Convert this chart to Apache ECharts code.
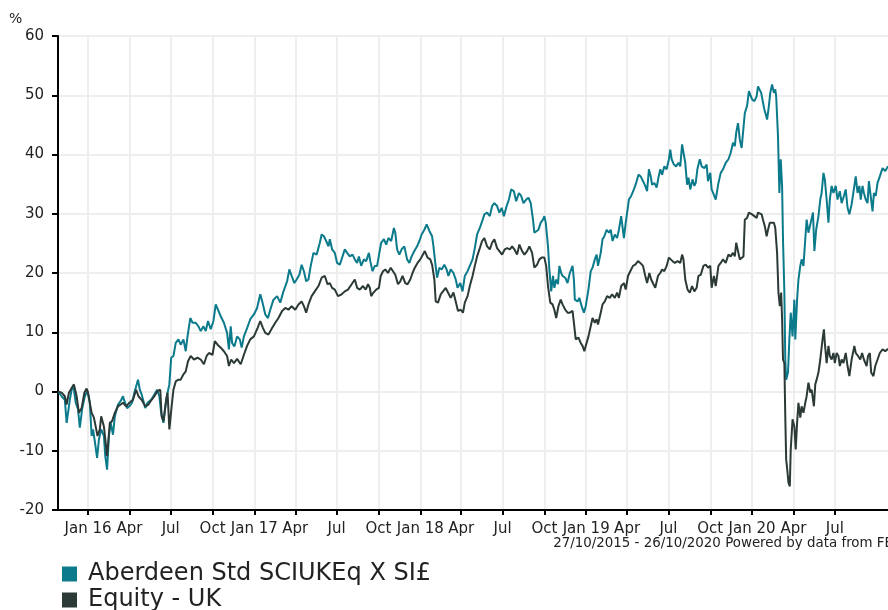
<!DOCTYPE html>
<html>
<head>
<meta charset="utf-8">
<script src="https://cdn.jsdelivr.net/npm/echarts@6/dist/echarts.min.js"></script>
<style>html,body{margin:0;padding:0;background:#fff;}#c{width:888px;height:610px;}</style>
</head>
<body>
<div id="c"></div>
<script>
// Period
const startDate = '2015-10-27';
const endDate = '2020-10-26';
// Quarter ticks
const tickDates = ['2016-01-01','2016-04-01','2016-07-01','2016-10-01','2017-01-01','2017-04-01','2017-07-01','2017-10-01','2018-01-01','2018-04-01','2018-07-01','2018-10-01','2019-01-01','2019-04-01','2019-07-01','2019-10-01','2020-01-01','2020-04-01','2020-07-01'];
const tickLabels = ['Jan 16','Apr','Jul','Oct','Jan 17','Apr','Jul','Oct','Jan 18','Apr','Jul','Oct','Jan 19','Apr','Jul','Oct','Jan 20','Apr','Jul'];
const yTicks = [-20,-10,0,10,20,30,40,50,60];
const seriesNames = ['Aberdeen Std SCIUKEq X SI£','Equity - UK'];

// Aberdeen Std SCIUKEq X SI£ : days since start, cumulative % return
const fundDays = [0,8,15,19,26,30,34,39,44,48,53,59,65,70,74,77,81,86,90,95,101,104,108,112,116,121,125,132,138,143,146,152,157,163,168,176,180,184,192,197,205,212,218,223,227,232,238,241,245,249,254,259,265,270,276,281,285,291,296,303,309,314,320,325,330,336,342,347,351,358,365,372,376,380,383,388,394,400,404,409,416,423,431,438,445,450,456,462,467,474,482,489,496,504,509,514,520,525,531,536,541,546,551,556,562,569,576,580,585,590,595,598,603,609,614,620,626,631,636,642,648,653,658,662,667,673,678,684,687,692,697,702,707,711,717,722,727,733,739,742,746,751,756,762,768,773,778,784,790,795,800,806,811,817,823,826,830,834,839,844,850,855,859,864,870,875,879,885,890,895,901,906,912,917,922,928,933,938,944,950,955,960,966,971,976,981,987,992,997,1003,1008,1014,1019,1024,1030,1035,1040,1045,1048,1052,1057,1062,1067,1070,1073,1078,1081,1085,1089,1092,1096,1100,1103,1107,1110,1116,1121,1126,1132,1135,1137,1143,1147,1152,1157,1161,1167,1172,1176,1181,1185,1188,1194,1198,1202,1207,1212,1216,1220,1225,1230,1234,1239,1245,1249,1253,1256,1261,1267,1272,1277,1282,1287,1292,1296,1300,1304,1307,1312,1317,1321,1325,1329,1334,1339,1344,1347,1350,1355,1360,1365,1369,1373,1376,1380,1384,1387,1391,1396,1400,1403,1407,1412,1416,1422,1427,1430,1435,1438,1443,1447,1453,1458,1463,1469,1475,1480,1485,1489,1492,1496,1500,1504,1508,1511,1516,1520,1524,1527,1532,1537,1540,1544,1547,1551,1554,1558,1560,1564,1567,1571,1575,1578,1580,1584,1587,1590,1593,1595,1598,1600,1602,1606,1609,1612,1616,1620,1622,1626,1629,1633,1636,1640,1644,1647,1651,1656,1661,1664,1668,1673,1677,1680,1684,1687,1691,1695,1698,1702,1706,1711,1715,1720,1724,1729,1733,1737,1741,1746,1752,1755,1759,1763,1766,1770,1773,1777,1781,1784,1788,1792,1795,1799,1803,1808,1814,1820,1826];
const fundValues = [0,-0.8,-1.4,-5.3,-1.4,0.3,0.9,-1.9,-3.0,-6.1,-3.0,-0.8,0.1,-1.9,-7.5,-6.4,-8.4,-11.2,-8.1,-6.4,-7.5,-10.9,-13.2,-7.5,-5.3,-7.3,-4.2,-2.2,-1.6,-0.8,-1.6,-2.8,-2.5,-1.9,-0.2,2.0,0.3,-0.5,-2.8,-1.9,-1.4,-0.5,0.3,-0.8,-3.6,-5.3,-1.4,-0.2,1.2,5.7,6.0,8.2,8.8,7.9,8.8,6.8,9.3,12.4,11.6,11.6,11.0,10.2,11.0,10.2,11.9,10.5,11.9,14.7,15.0,12.7,11.6,9.9,7.1,11.0,8.2,7.6,9.3,8.8,7.4,9.3,10.7,12.2,13.0,14.1,16.4,15.0,13.0,12.4,13.8,15.5,16.1,15.0,16.9,18.6,20.6,19.5,18.3,18.9,19.7,21.4,20.3,18.6,18.9,21.2,23.4,23.1,25.1,26.5,26.2,25.4,24.5,25.7,24.0,23.4,21.7,21.4,22.8,24.0,23.4,22.8,23.1,22.3,21.7,22.8,21.2,22.3,22.0,23.4,22.0,20.3,21.2,21.2,23.4,25.1,25.7,24.8,25.9,25.4,27.6,26.8,24.0,23.1,24.0,24.5,22.3,21.7,22.8,23.7,24.5,25.4,26.5,27.3,28.2,27.1,26.2,24.5,21.7,19.2,20.9,20.6,21.4,20.6,19.5,20.6,20.0,18.9,17.5,18.3,16.9,19.5,20.3,21.2,22.3,24.2,26.5,27.6,28.7,29.9,30.2,29.6,31.3,31.8,31.3,30.2,31.0,29.6,31.3,32.4,34.1,33.8,32.1,33.5,33.0,31.8,32.4,32.7,31.8,29.0,26.8,27.1,27.3,28.5,29.0,29.6,28.5,24.5,20.6,16.9,19.5,17.5,18.9,18.1,21.2,20.0,19.5,19.2,18.3,20.0,21.2,18.9,15.5,15.2,15.8,14.4,13.3,14.4,17.2,20.3,20.9,22.3,23.1,21.2,23.4,25.7,26.2,27.3,26.8,27.3,25.4,26.5,25.9,27.3,29.6,25.9,28.5,30.7,32.4,33.0,34.1,35.2,36.6,36.3,35.5,34.7,33.8,37.5,36.3,34.9,35.2,34.4,36.1,37.5,36.6,38.0,37.5,39.2,40.8,39.2,38.3,38.0,38.6,38.0,41.7,41.4,38.6,34.9,36.1,34.1,35.8,34.7,35.2,37.7,39.2,38.0,37.7,38.3,35.5,36.9,34.1,33.2,32.4,35.2,36.9,37.5,38.6,39.2,40.3,42.0,41.4,43.7,45.3,42.5,41.1,40.8,47.0,48.2,50.7,51.0,49.3,49.0,49.8,51.5,51.8,50.4,50.7,47.6,46.5,45.9,48.2,50.4,51.8,50.4,51.0,49.8,43.1,33.5,39.2,34.7,25.7,16.7,5.4,2.0,3.2,8.8,13.3,9.3,15.5,8.8,15.5,18.9,21.2,22.3,21.2,25.7,29.0,26.8,28.5,30.2,23.7,27.3,29.6,32.4,33.5,36.9,35.8,32.4,28.5,32.4,34.7,33.5,34.7,32.4,33.8,31.8,33.0,34.1,31.0,29.9,31.6,34.7,36.3,33.5,34.7,32.4,34.7,33.5,32.4,31.8,35.5,35.8,30.4,33.5,33.0,35.2,36.3,37.7,37.2,38.0];

// Equity - UK sector average : days since start, cumulative % return
const sectorDays = [0,8,15,19,24,30,35,41,46,52,58,63,66,74,79,82,87,92,95,101,108,114,119,125,132,138,143,150,157,165,172,177,184,192,199,206,212,219,225,228,232,238,241,245,250,254,259,265,270,276,281,286,292,299,307,314,321,327,332,340,345,351,358,365,372,376,381,387,394,402,409,416,423,431,439,445,451,456,463,471,478,485,493,500,507,514,522,529,536,541,546,551,558,565,573,580,587,593,598,603,609,616,624,631,638,646,653,658,664,671,677,682,686,689,694,700,706,710,715,720,726,732,737,742,748,753,758,764,769,775,780,785,791,797,802,807,813,819,823,828,831,836,842,847,853,858,864,870,875,880,886,891,895,901,906,912,917,922,928,933,938,944,950,955,960,966,971,977,983,988,994,999,1004,1010,1015,1021,1026,1032,1037,1043,1048,1054,1059,1064,1070,1074,1078,1083,1088,1092,1096,1101,1106,1110,1116,1121,1126,1132,1135,1139,1145,1150,1154,1158,1161,1167,1172,1176,1181,1185,1188,1194,1198,1203,1208,1214,1219,1225,1230,1234,1239,1245,1249,1254,1259,1265,1270,1276,1281,1287,1292,1296,1301,1305,1310,1314,1320,1325,1329,1334,1339,1344,1347,1352,1357,1363,1369,1373,1376,1380,1385,1390,1395,1400,1405,1409,1414,1420,1425,1430,1435,1438,1443,1447,1453,1458,1463,1469,1475,1480,1485,1489,1492,1496,1500,1504,1508,1511,1516,1520,1524,1527,1532,1537,1540,1544,1548,1551,1555,1559,1562,1566,1569,1575,1578,1582,1585,1588,1591,1593,1595,1598,1600,1602,1605,1607,1610,1612,1616,1620,1623,1626,1629,1633,1636,1640,1644,1647,1651,1655,1658,1663,1666,1669,1673,1677,1682,1685,1687,1691,1695,1698,1702,1706,1709,1713,1717,1720,1724,1728,1733,1737,1741,1746,1752,1755,1760,1765,1769,1773,1779,1782,1786,1789,1794,1798,1803,1808,1814,1820,1826];
const sectorValues = [0,-0.2,-0.8,-2.2,-0.2,0.6,1.2,-0.8,-3.6,-2.8,-0.2,0.5,-0.2,-3.6,-4.4,-4.2,-7.5,-6.4,-4.2,-5.9,-10.9,-5.3,-5.0,-3.6,-2.5,-2.2,-1.9,-2.5,-1.9,-1.4,0.3,-0.8,-1.4,-2.5,-2.2,-1.4,-0.8,0.1,0.3,-4.2,-5.0,-1.4,-0.2,-6.4,-2.5,0.3,1.7,2.0,2.0,2.9,3.4,5.1,6.0,5.4,5.7,5.4,4.6,6.0,6.5,6.2,8.5,7.9,7.4,6.8,6.0,4.3,5.4,4.8,5.5,4.6,6.2,7.7,8.8,9.3,10.7,11.9,10.7,9.9,9.6,10.7,11.6,12.4,13.6,14.1,13.8,14.4,13.8,14.7,15.2,14.4,13.3,14.7,16.1,16.9,17.8,19.2,19.5,18.1,18.3,17.5,17.2,16.1,16.4,16.9,17.2,18.1,18.9,17.5,17.2,17.8,17.2,18.1,17.5,16.1,16.7,17.2,17.5,19.5,20.3,20.6,20.0,20.9,20.3,19.7,18.1,18.6,19.5,18.3,18.1,18.9,20.0,20.9,21.7,22.3,23.0,23.7,22.6,22.3,21.4,18.9,15.2,15.0,16.4,16.9,17.5,16.7,15.8,16.7,15.2,13.6,13.8,13.3,15.0,16.1,17.8,19.5,21.2,22.8,24.2,25.4,25.9,24.5,24.0,25.1,25.7,24.2,23.7,23.1,24.0,24.2,24.0,24.5,24.0,23.1,24.8,23.7,23.1,23.7,24.5,23.4,20.9,21.4,22.3,22.6,22.6,21.2,17.8,15.0,14.7,13.8,12.4,14.4,15.5,14.7,13.8,13.3,13.3,13.6,11.6,8.8,9.1,8.2,7.7,6.8,7.7,9.3,11.0,12.4,11.6,12.2,11.3,13.3,14.7,15.2,16.1,15.8,16.4,15.8,16.7,15.8,17.8,18.3,17.2,19.5,20.3,21.2,21.4,22.0,21.7,21.2,19.5,18.3,20.0,18.9,18.1,17.5,19.5,20.0,20.6,20.3,21.2,22.6,22.8,22.0,21.7,22.0,21.7,23.1,22.3,18.9,17.2,16.7,17.8,16.9,17.5,19.5,19.7,21.2,21.4,20.9,21.2,17.5,19.5,17.8,21.2,21.7,22.3,21.7,23.1,22.8,23.4,22.8,25.1,23.7,22.3,22.3,22.8,29.0,29.3,30.2,30.4,29.9,29.6,29.3,30.2,30.4,29.9,29.0,27.9,26.2,27.3,28.5,28.2,28.5,27.6,23.4,16.7,14.4,16.7,12.2,5.4,4.8,-4.2,-11.5,-13.7,-15.4,-16.0,-9.8,-4.7,-5.9,-9.8,-5.3,-1.9,-4.4,-2.5,-3.6,-1.9,-0.8,1.5,-0.2,0.3,-2.5,1.2,2.0,3.2,5.4,8.8,10.5,8.2,4.8,7.7,6.0,5.4,6.5,4.8,6.5,6.0,4.3,5.4,4.8,6.5,4.3,2.6,5.4,7.7,6.5,6.0,5.4,6.5,5.4,4.3,6.0,6.5,3.2,2.6,4.3,5.4,6.5,7.1,6.8,7.2];

const DAY = 86400000;
function utc(s){ const p = s.split('-').map(Number); return Date.UTC(p[0], p[1]-1, p[2]); }
const t0 = utc(startDate);
const tickValues = tickDates.map(utc);
const labelMap = {};
tickValues.forEach((v,i)=>{ labelMap[v] = tickLabels[i]; });
const fundData = fundDays.map((d,i)=>[t0 + d*DAY, fundValues[i]]);
const sectorData = sectorDays.map((d,i)=>[t0 + d*DAY, sectorValues[i]]);

const FONT = 'DejaVu Sans, Verdana, sans-serif';
const chart = echarts.init(document.getElementById('c'), null, {renderer:'canvas'});
chart.setOption({
  animation: false,
  color: ['#0b7a8b', '#2c3a37'],
  grid: {left: 58, right: -5, top: 36, bottom: 100, containLabel: false},
  xAxis: {
    type: 'value',
    min: t0,
    max: utc(endDate),
    axisLine: {show: true, onZero: false, lineStyle: {color: '#000', width: 2}},
    axisTick: {show: true, length: 5, lineStyle: {color: '#000', width: 2}, customValues: tickValues},
    axisLabel: {
      customValues: tickValues,
      formatter: function(v){ return labelMap[v] || ''; },
      color: '#222', fontSize: 15, fontFamily: FONT, margin: 12, hideOverlap: false
    },
    splitLine: {show: true, lineStyle: {color: '#eeeeee', width: 2}}
  },
  yAxis: {
    type: 'value',
    min: yTicks[0], max: yTicks[yTicks.length-1], interval: 10,
    axisLine: {show: true, lineStyle: {color: '#000', width: 2}},
    axisTick: {show: true, length: 6, lineStyle: {color: '#000', width: 2}},
    axisLabel: {color: '#222', fontSize: 15, fontFamily: FONT, margin: 14},
    splitLine: {show: true, lineStyle: {color: '#eeeeee', width: 2}}
  },
  legend: {
    data: seriesNames,
    orient: 'vertical',
    left: 62, top: 561,
    width: 500, height: 80,
    padding: 0,
    icon: 'rect',
    itemWidth: 15, itemHeight: 15, itemGap: 0,
    textStyle: {fontSize: 24, lineHeight: 26, color: '#222', fontFamily: FONT, padding: [0,0,0,6]},
    selectedMode: false
  },
  graphic: [
    {type: 'text', left: 9, top: 12, style: {text: '%', fill: '#222', font: '14px ' + FONT}},
    {type: 'text', x: 893, y: 537, style: {text: '27/10/2015 - 26/10/2020 Powered by data from FE', fill: '#222', font: '13.4px ' + FONT, textAlign: 'right'}}
  ],
  series: [
    {name: seriesNames[0], type: 'line', data: fundData, showSymbol: false, lineStyle: {width: 2}, z: 2},
    {name: seriesNames[1], type: 'line', data: sectorData, showSymbol: false, lineStyle: {width: 2}, z: 3}
  ]
});
</script>
</body>
</html>
